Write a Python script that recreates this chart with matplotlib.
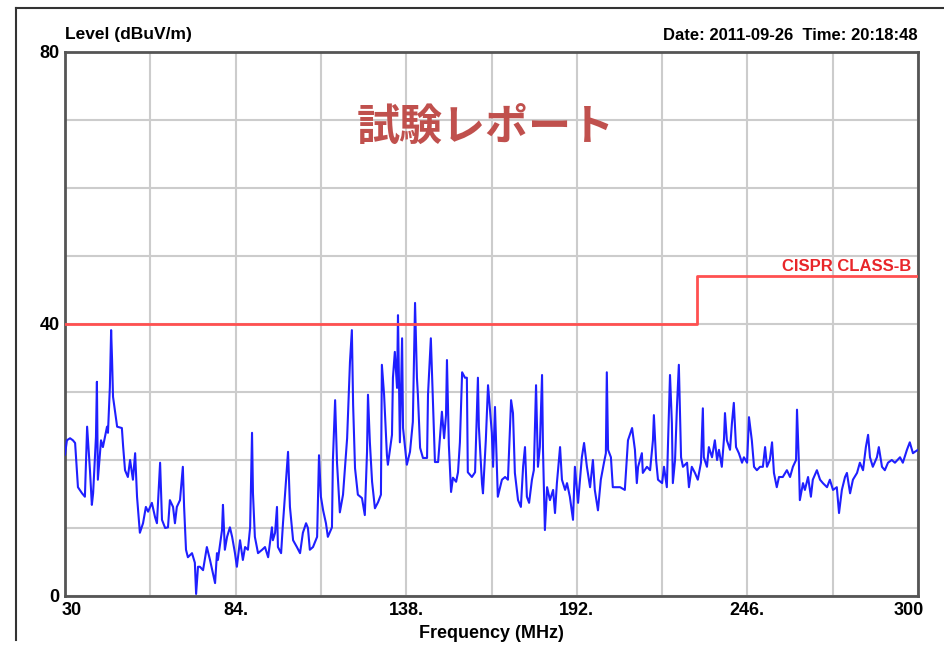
import matplotlib
matplotlib.use("Agg")
import matplotlib.pyplot as plt
from matplotlib.lines import Line2D
import matplotlib.transforms as mtransforms

# measured spectrum, frequency (MHz) / level (dBuV/m)
freq = [30.0, 30.6, 31.6, 32.5, 33.2, 34.1, 35.4, 36.3, 37.0, 37.9, 38.5, 38.9, 39.8, 40.1, 40.4,
        41.4, 42.0, 43.3, 43.6, 44.2, 44.6, 44.9, 45.2, 46.5, 48.0, 48.4, 49.0, 49.9, 50.6, 51.5,
        52.2, 52.8, 53.7, 54.7, 55.6, 56.3, 57.5, 58.5, 59.1, 60.1, 60.7, 61.7, 62.6, 63.2, 64.2,
        64.8, 65.4, 66.4, 67.3, 67.7, 68.3, 68.9, 70.2, 71.1, 71.5, 72.1, 72.7, 73.7, 74.9, 75.9,
        76.8, 77.5, 78.1, 78.4, 79.7, 80.0, 80.6, 81.3, 82.2, 82.9, 83.8, 84.4, 85.4, 86.3, 87.0,
        87.9, 88.6, 89.2, 89.5, 90.1, 91.1, 92.4, 93.3, 94.3, 95.5, 95.8, 96.5, 97.1, 97.4, 98.4,
        99.0, 99.9, 100.6, 101.2, 102.2, 103.4, 104.4, 105.3, 106.3, 106.9, 107.5, 108.5, 109.8, 110.4, 111.0,
        111.7, 112.6, 113.2, 114.5, 114.8, 115.5, 116.1, 117.0, 118.0, 119.3, 120.2, 120.8, 121.2, 121.8, 122.7,
        124.0, 124.9, 125.6, 125.9, 126.5, 127.2, 128.1, 129.1, 130.0, 130.3, 131.0, 131.9, 132.2, 133.5, 133.8,
        134.4, 135.1, 135.4, 136.0, 136.7, 137.0, 138.2, 139.2, 140.1, 140.8, 141.4, 141.7, 142.4, 143.3, 144.6,
        144.9, 145.8, 146.5, 147.1, 148.1, 149.3, 150.0, 150.6, 150.9, 151.5, 152.2, 152.8, 153.8, 154.4, 155.0,
        155.7, 156.6, 157.2, 157.5, 158.8, 159.8, 160.7, 161.0, 162.0, 162.3, 163.2, 163.9, 165.1, 165.5, 166.1,
        166.7, 167.0, 168.3, 169.3, 170.2, 171.2, 171.8, 172.4, 173.4, 174.3, 175.0, 175.6, 176.2, 176.9, 177.8,
        178.4, 179.1, 179.7, 180.3, 181.0, 181.3, 181.9, 182.6, 183.5, 184.5, 185.1, 185.7, 186.7, 187.3, 188.3,
        188.9, 189.8, 190.8, 191.4, 192.4, 193.6, 194.3, 195.2, 196.2, 197.1, 197.7, 198.7, 199.6, 200.6, 201.2,
        201.5, 201.9, 202.8, 203.4, 205.7, 207.2, 208.2, 209.5, 210.4, 211.0, 211.4, 212.6, 212.9, 214.2, 215.2,
        216.1, 216.4, 217.1, 217.7, 219.0, 219.6, 220.5, 220.9, 221.5, 222.1, 222.4, 223.1, 223.7, 224.3, 225.0,
        225.6, 226.9, 227.5, 228.4, 229.4, 230.3, 231.3, 231.9, 232.2, 233.2, 233.8, 234.8, 235.7, 236.4, 237.0,
        237.9, 238.6, 238.9, 239.5, 240.5, 241.1, 241.7, 242.4, 243.3, 244.3, 244.9, 245.9, 246.5, 247.4, 248.1,
        249.0, 250.0, 250.9, 251.6, 252.2, 253.1, 253.8, 254.4, 255.3, 256.0, 257.2, 258.5, 259.5, 260.4, 261.4,
        261.7, 262.3, 262.6, 263.6, 264.2, 265.2, 266.1, 266.7, 268.0, 269.0, 269.9, 271.2, 272.1, 273.1, 274.3,
        275.0, 275.9, 276.9, 277.5, 278.5, 279.4, 280.7, 281.6, 282.6, 283.5, 284.2, 284.8, 285.7, 287.0, 287.6,
        288.6, 289.5, 290.5, 291.7, 292.7, 294.3, 295.2, 296.5, 297.4, 298.4, 299.0, 300.0]
level = [20.8, 22.9, 23.2, 22.9, 22.5, 16.0, 15.1, 14.6, 24.9, 18.5, 13.4, 15.1, 23.4, 31.5, 17.1,
         22.9, 21.9, 24.9, 24.0, 30.7, 39.1, 34.7, 29.3, 24.9, 24.7, 22.0, 18.5, 17.5, 20.0, 17.1,
         21.0, 14.6, 9.3, 10.7, 13.1, 12.4, 13.7, 11.6, 10.7, 19.6, 11.2, 10.0, 10.1, 14.1, 13.1,
         10.7, 13.1, 14.1, 19.0, 13.1, 6.8, 5.7, 6.3, 4.9, 0.3, 4.3, 4.3, 3.8, 7.2, 5.3,
         3.4, 1.9, 6.3, 5.3, 9.7, 13.4, 6.8, 8.7, 10.1, 8.7, 6.3, 4.3, 8.2, 5.3, 7.2,
         6.8, 10.1, 24.0, 15.1, 8.7, 6.3, 6.8, 7.2, 5.7, 10.1, 8.2, 9.3, 13.1, 7.2, 6.3,
         10.7, 16.6, 21.2, 13.1, 8.2, 7.2, 6.3, 9.3, 10.7, 10.0, 6.8, 7.2, 8.7, 20.7, 14.6,
         12.6, 10.7, 8.7, 10.1, 20.0, 28.8, 19.6, 12.3, 14.9, 23.2, 34.4, 39.1, 28.1, 18.8, 14.9,
         14.4, 11.9, 21.2, 29.6, 22.6, 16.8, 12.9, 13.8, 14.9, 34.0, 29.6, 20.7, 19.3, 23.7, 32.1,
         35.9, 30.6, 41.3, 22.6, 37.9, 24.7, 19.3, 21.2, 25.6, 43.1, 32.1, 29.6, 21.8, 20.3, 20.3,
         29.6, 37.9, 28.1, 19.7, 19.7, 27.1, 23.2, 26.6, 34.7, 22.2, 15.3, 17.4, 16.8, 18.2, 22.6,
         32.9, 32.1, 32.1, 18.2, 17.5, 18.2, 32.1, 24.9, 16.5, 15.1, 22.9, 31.0, 24.0, 19.0, 27.8,
         19.0, 14.6, 17.1, 17.5, 17.1, 28.8, 26.9, 18.1, 14.1, 13.1, 19.0, 21.9, 14.6, 13.7, 17.1,
         18.5, 31.0, 19.0, 21.9, 32.5, 21.5, 9.7, 16.0, 14.1, 15.6, 12.2, 16.6, 21.9, 17.1, 15.6,
         16.6, 14.6, 11.2, 19.0, 13.7, 20.4, 22.5, 19.0, 16.0, 20.0, 15.6, 12.6, 17.1, 19.6, 21.0,
         32.9, 21.5, 20.4, 16.0, 16.0, 15.6, 22.9, 24.7, 21.5, 16.6, 19.0, 21.0, 18.1, 19.0, 18.5,
         22.9, 26.6, 20.0, 17.1, 16.6, 19.0, 16.0, 22.9, 32.5, 25.4, 16.6, 20.0, 27.8, 34.0, 20.4,
         19.0, 19.6, 16.0, 19.0, 18.1, 17.1, 19.6, 27.6, 20.4, 19.0, 21.9, 20.4, 22.9, 20.0, 21.5,
         19.0, 23.2, 26.9, 22.9, 21.5, 25.4, 28.4, 21.9, 21.0, 19.6, 20.4, 19.6, 26.3, 22.9, 19.0,
         18.5, 19.0, 19.0, 21.9, 19.0, 20.0, 22.6, 18.1, 16.0, 17.5, 17.5, 18.5, 17.5, 19.0, 20.0,
         27.4, 19.6, 14.1, 16.6, 15.6, 17.5, 14.6, 17.1, 18.5, 17.1, 16.6, 16.0, 17.1, 15.6, 16.0,
         12.2, 15.6, 17.5, 18.1, 15.1, 17.1, 18.1, 19.6, 18.5, 21.9, 23.7, 20.4, 19.0, 20.4, 21.9,
         19.0, 18.5, 19.6, 20.0, 19.6, 20.4, 19.6, 21.5, 22.6, 21.0, 21.2, 21.5]

# CISPR class B limit
limit_freq = [30, 230, 230, 300]
limit_level = [40, 40, 47, 47]

x_ticks = [30, 84, 138, 192, 246, 300]
x_labels = ["30", "84.", "138.", "192.", "246.", "300"]
x_minor = [57, 111, 165, 219, 273]
y_ticks = [0, 40, 80]
y_minor = [10, 20, 30, 50, 60, 70]

label_font = ["Liberation Sans", "DejaVu Sans"]

fig = plt.figure(figsize=(9.45, 6.53), dpi=100)
ax = fig.add_axes([65 / 945, 57 / 653, 853 / 945, 544 / 653])

ax.plot(freq, level, color="#1f1fff", lw=1.5, zorder=3)
ax.plot(limit_freq, limit_level, color="#ff5050", lw=2.0, zorder=4)
ax.text(297.8, 47.4, "CISPR CLASS-B", color="#e8262a", ha="right", va="bottom",
        fontsize=12, fontweight="bold", family=label_font)

ax.set_xlim(30, 300)
ax.set_ylim(0, 80)
ax.set_xticks(x_ticks)
ax.set_xticklabels(x_labels)
ax.set_xticks(x_minor, minor=True)
ax.set_yticks(y_ticks)
ax.set_yticks(y_minor, minor=True)
ax.grid(True, which="both", color="#cccccc", lw=1.5, zorder=0)
ax.set_axisbelow(True)
ax.tick_params(which="both", length=0)
ax.tick_params(axis="x", pad=4)
ax.tick_params(axis="y", pad=4)
for lbl in ax.get_xticklabels() + ax.get_yticklabels():
    lbl.set_fontsize(13)
    lbl.set_fontweight("bold")
    lbl.set_family(label_font)

# first/last x labels sit inside the frame
xl = ax.get_xticklabels()
xl[0].set_transform(xl[0].get_transform() + mtransforms.ScaledTranslation(7 / 100, 0, fig.dpi_scale_trans))
xl[-1].set_transform(xl[-1].get_transform() + mtransforms.ScaledTranslation(-9 / 100, 0, fig.dpi_scale_trans))

for s in ax.spines.values():
    s.set_color("#555555")
    s.set_linewidth(2)

fig.text(65 / 945, 1 - 35 / 653, "Level (dBuV/m)", ha="left", va="center",
         fontsize=12.5, fontweight="bold", family=label_font)
fig.text(918 / 945, 1 - 35 / 653, "Date: 2011-09-26  Time: 20:18:48", ha="right", va="center",
         fontsize=12, fontweight="bold", family=label_font)
fig.text(491 / 945, 1 - 633 / 653, "Frequency (MHz)", ha="center", va="center",
         fontsize=13, fontweight="bold", family=label_font)
fig.text(486 / 945, 1 - 127 / 653, "試験レポート", ha="center", va="center",
         fontsize=31, fontweight="bold", color="#c0504d", family=["Noto Sans CJK JP", "DejaVu Sans"])

# outer picture frame
fig.add_artist(Line2D([16 / 945, 1], [1 - 8 / 653, 1 - 8 / 653], color="#333333", lw=1.5))
fig.add_artist(Line2D([16 / 945, 16 / 945], [1 - 8 / 653, 1 - 640 / 653], color="#333333", lw=1.5))

fig.savefig("out.png", dpi=100)
